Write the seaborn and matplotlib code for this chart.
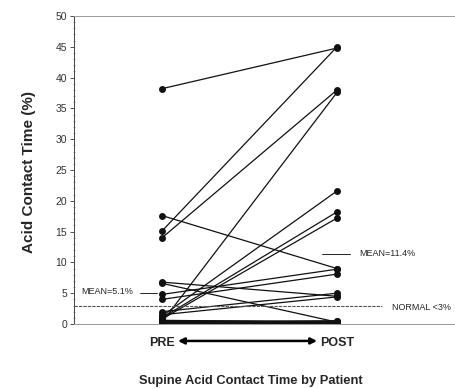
import matplotlib
matplotlib.use("Agg")
import matplotlib.pyplot as plt
import matplotlib.transforms as mtransforms
from matplotlib.ticker import MultipleLocator
import seaborn as sns
import pandas as pd

# ---- data ----
phases = ["PRE", "POST"]
pre_values = [38.2, 15.1, 14.0, 17.6, 0.3, 1.3, 1.0, 0.8, 6.8, 6.6, 4.8, 4.0,
              2.0, 1.5, 0.1, 0.2, 0.4, 0.5, 0.6, 0.2, 0.3, 0.5, 0.2]
post_values = [44.8, 45.0, 38.0, 9.0, 37.6, 21.6, 18.2, 17.2, 4.5, 0.3, 8.9, 8.1,
               5.0, 4.4, 0.3, 0.2, 0.5, 0.4, 0.3, 0.2, 0.4, 0.3, 0.5]
mean_pre = 5.1
mean_post = 11.4
normal_limit = 3.0
y_ticks = [0, 5, 10, 15, 20, 25, 30, 35, 40, 45, 50]

rows = []
for i, (a, b) in enumerate(zip(pre_values, post_values)):
    rows.append({"patient": i, "phase": phases[0], "value": a})
    rows.append({"patient": i, "phase": phases[1], "value": b})
df = pd.DataFrame(rows)

sns.set_style("ticks")
plt.rcParams["font.family"] = ["Liberation Sans Narrow", "Liberation Sans", "DejaVu Sans"]

fig = plt.figure(figsize=(4.55, 3.89), dpi=100)
ax = fig.add_axes([74 / 455, 65 / 389, 381 / 455, 308 / 389])

sns.lineplot(data=df, x="phase", y="value", units="patient", estimator=None,
             sort=False, color="#111111", lw=0.9, marker="o", markersize=5,
             markeredgewidth=0, ax=ax, legend=False)

ax.set_xlim(-0.503, 1.674)
ax.set_ylim(0, 50)
ax.set_yticks(y_ticks)
ax.yaxis.set_minor_locator(MultipleLocator(1))
ax.tick_params(axis="y", which="major", direction="out", length=3, width=0.6,
               labelsize=7.5, pad=2, colors="#333333")
ax.tick_params(axis="y", which="minor", direction="inout", length=2, width=0.4,
               color="#555555")

# x category labels
ax.set_xticks([0, 1])
ax.set_xticklabels(phases, fontsize=9, fontweight="bold", family=["Liberation Sans", "DejaVu Sans"])
ax.tick_params(axis="x", length=0, pad=9)
ax.set_xlabel("")

ax.set_ylabel("Acid Contact Time (%)", fontsize=11, fontweight="bold",
              family=["Liberation Sans", "DejaVu Sans"])
ax.yaxis.set_label_coords(-0.1, 0.495)

# spines
ax.spines["right"].set_visible(False)
for s in ("top", "bottom"):
    ax.spines[s].set_linestyle((0, (1, 1)))
    ax.spines[s].set_color("#9a9a9a")
    ax.spines[s].set_linewidth(0.7)
ax.spines["left"].set_color("#444444")
ax.spines["left"].set_linewidth(0.7)

# normal limit line
ax.plot([-0.503, 1.257], [normal_limit, normal_limit], color="#555555",
        lw=0.8, ls=(0, (3, 1)))
ax.text(1.314, normal_limit - 0.4, "NORMAL <3%", fontsize=6.5, va="center", ha="left")

# mean annotations
ax.plot([-0.126, -0.029], [mean_pre, mean_pre], color="black", lw=0.6)
ax.text(-0.166, mean_pre + 0.1, "MEAN=5.1%", fontsize=6.5, va="center", ha="right")
ax.plot([0.914, 1.074], [mean_post, mean_post], color="black", lw=0.6)
ax.text(1.126, mean_post, "MEAN=11.4%", fontsize=6.5, va="center", ha="left")

# double-headed arrow between PRE and POST
trans = mtransforms.blended_transform_factory(ax.transData, ax.transAxes)
ax.annotate("", xy=(0.886, -0.055), xytext=(0.091, -0.055), xycoords=trans,
            textcoords=trans, annotation_clip=False,
            arrowprops=dict(arrowstyle="<|-|>", color="black", lw=1.8,
                            mutation_scale=9, shrinkA=0, shrinkB=0))

fig.text(251 / 455, 1 - 381 / 389, "Supine Acid Contact Time by Patient",
         fontsize=9.3, fontweight="bold", ha="center", va="center",
         family=["Liberation Sans", "DejaVu Sans"])

fig.savefig("out.png", dpi=100)
